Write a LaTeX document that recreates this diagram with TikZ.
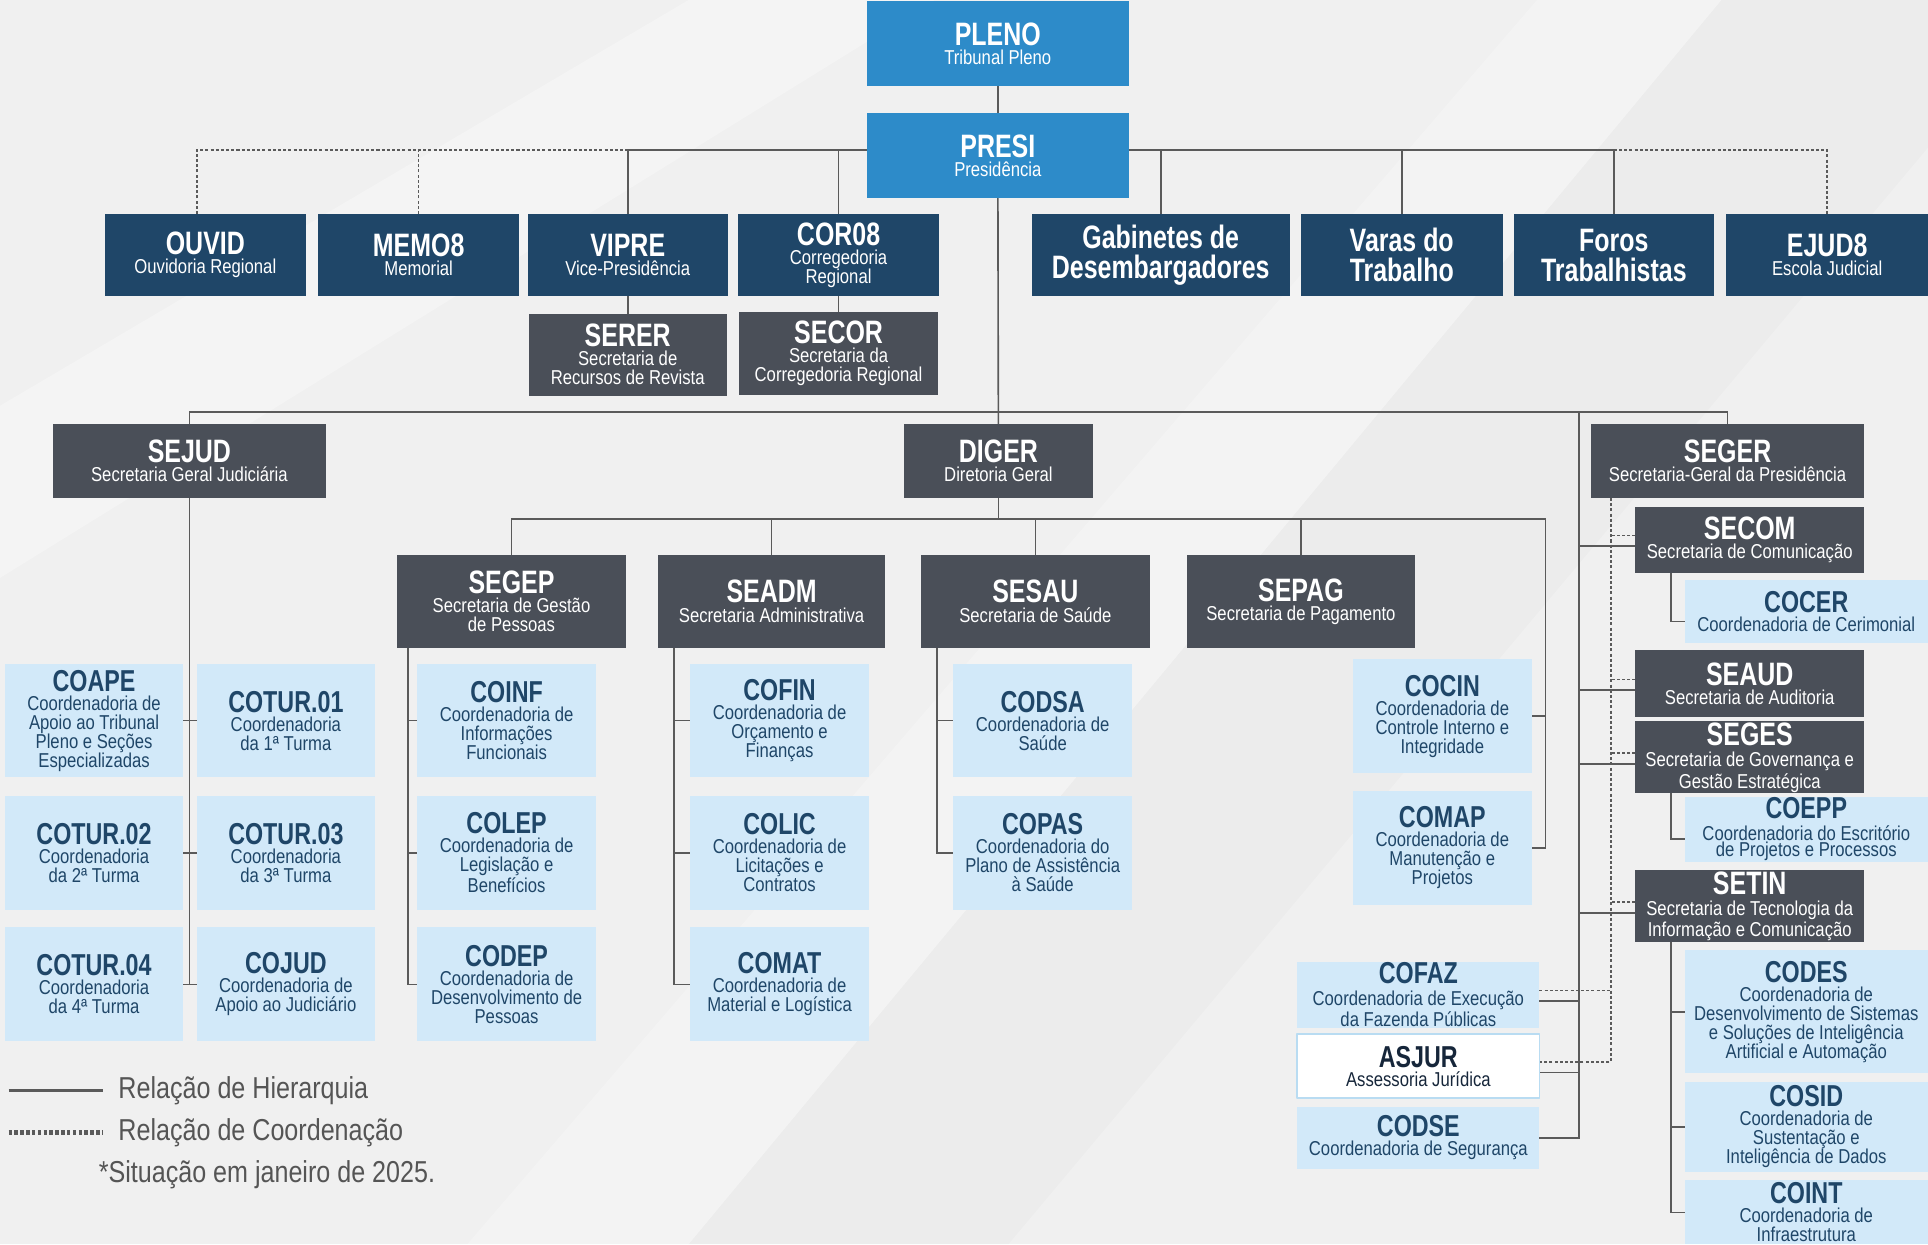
\documentclass[tikz,border=0pt]{standalone}
\usepackage{fontspec}
\setmainfont{Liberation Sans}[FakeStretch=0.83]
\newfontfamily\titlefam{Liberation Sans}[FakeStretch=0.77]
\usetikzlibrary{backgrounds}

\definecolor{plenoblue}{HTML}{2D8BC9}
\definecolor{orgnavy}{HTML}{1F4668}
\definecolor{slate}{HTML}{4A4F58}
\definecolor{paleblue}{HTML}{D2E9F9}
\definecolor{linegray}{HTML}{5A5A5A}
\definecolor{legendgray}{HTML}{555555}
\definecolor{bggray}{HTML}{F0F0F0}
\definecolor{asjurline}{HTML}{B9DCF2}
\definecolor{asjurtext}{HTML}{16263A}

% titles of the boxes
\newcommand{\ttl}[1]{{\titlefam\bfseries\fontsize{15}{15}\selectfont #1}}
\newcommand{\ctl}[1]{{\titlefam\bfseries\fontsize{14}{14}\selectfont #1}}
% box from its corners: style, x1, y1, x2, y2, name, text
\newcommand{\orgbox}[7]{%
  \node[#1, minimum width={(#4-#2)*0.02cm}, minimum height={(#5-#3)*0.02cm}]
    (#6) at ({(#2+#4)/2},{(#3+#5)/2}) {#7};}

\begin{document}
\begin{tikzpicture}[x=0.02cm, y=-0.02cm, line join=round,
    box/.style={inner sep=0.5pt, outer sep=0pt, align=center, text=white,
      font=\fontsize{9.3}{8.8}\selectfont},
    bluebox/.style={box, fill=plenoblue},
    navybox/.style={box, fill=orgnavy},
    navybig/.style={navybox, font=\titlefam\bfseries\fontsize{15}{13.9}\selectfont},
    graybox/.style={box, fill=slate},
    lightbox/.style={box, fill=paleblue, text=orgnavy},
    asjurbox/.style={box, fill=white, draw=asjurline, line width=0.8pt, text=asjurtext},
    tight/.style={font=\fontsize{9.3}{7.6}\selectfont},
    hier/.style={draw=linegray, line width=0.75pt},
    coord/.style={draw=linegray, line width=0.75pt, dash pattern=on 1.4pt off 1pt},
    legend/.style={text=legendgray, inner sep=0pt, font=\fontsize{14}{14}\selectfont}]
\useasboundingbox (0,0) rectangle (1568,1012);

% presidencia
\orgbox{bluebox}{705}{1}{918}{70}{pleno}{\ttl{PLENO}\\Tribunal Pleno}
\orgbox{bluebox}{705}{92}{918}{161}{presi}{\ttl{PRESI}\\Presidência}
\orgbox{navybox}{85}{174}{249}{241}{ouvid}{\ttl{OUVID}\\Ouvidoria Regional}
\orgbox{navybox}{259}{174}{422}{241}{memo}{\ttl{MEMO8}\\Memorial}
\orgbox{navybox}{429}{174}{592}{241}{vipre}{\ttl{VIPRE}\\Vice-Presidência}
\orgbox{navybox}{600}{174}{764}{241}{coro}{\ttl{COR08}\\Corregedoria\\Regional}
\orgbox{navybig}{839}{174}{1049}{241}{gab}{Gabinetes de\\Desembargadores}
\orgbox{navybig}{1058}{174}{1222}{241}{varas}{Varas do\\Trabalho}
\orgbox{navybig}{1231}{174}{1394}{241}{foros}{Foros\\Trabalhistas}
\orgbox{navybox}{1404}{174}{1568}{241}{ejud}{\ttl{EJUD8}\\Escola Judicial}
\orgbox{graybox}{430}{255}{591}{322}{serer}{\ttl{SERER}\\Secretaria de\\Recursos de Revista}
\orgbox{graybox}{601}{254}{763}{321}{secor}{\ttl{SECOR}\\Secretaria da\\Corregedoria Regional}

% secretarias gerais
\orgbox{graybox}{43}{345}{265}{405}{sejud}{\ttl{SEJUD}\\Secretaria Geral Judiciária}
\orgbox{graybox}{735}{345}{889}{405}{diger}{\ttl{DIGER}\\Diretoria Geral}
\orgbox{graybox}{1294}{345}{1516}{405}{seger}{\ttl{SEGER}\\Secretaria-Geral da Presidência}

% sejud
\orgbox{lightbox}{4}{540}{149}{632}{coape}{\ctl{COAPE}\\Coordenadoria de\\Apoio ao Tribunal\\Pleno e Seções\\Especializadas}
\orgbox{lightbox}{160}{540}{305}{632}{cotur01}{\ctl{COTUR.01}\\Coordenadoria\\da 1ª Turma}
\orgbox{lightbox}{4}{647}{149}{740}{cotur02}{\ctl{COTUR.02}\\Coordenadoria\\da 2ª Turma}
\orgbox{lightbox}{160}{647}{305}{740}{cotur03}{\ctl{COTUR.03}\\Coordenadoria\\da 3ª Turma}
\orgbox{lightbox}{4}{754}{149}{847}{cotur04}{\ctl{COTUR.04}\\Coordenadoria\\da 4ª Turma}
\orgbox{lightbox}{160}{754}{305}{847}{cojud}{\ctl{COJUD}\\Coordenadoria de\\Apoio ao Judiciário}

% diger
\orgbox{graybox}{323}{451}{509}{527}{segep}{\ttl{SEGEP}\\Secretaria de Gestão\\de Pessoas}
\orgbox{graybox}{535}{451}{720}{527}{seadm}{\ttl{SEADM}\\Secretaria Administrativa}
\orgbox{graybox}{749}{451}{935}{527}{sesau}{\ttl{SESAU}\\Secretaria de Saúde}
\orgbox{graybox}{965}{451}{1151}{527}{sepag}{\ttl{SEPAG}\\Secretaria de Pagamento}
\orgbox{lightbox}{339}{540}{485}{632}{coinf}{\ctl{COINF}\\Coordenadoria de\\Informações\\Funcionais}
\orgbox{lightbox}{339}{647}{485}{740}{colep}{\ctl{COLEP}\\Coordenadoria de\\Legislação e\\Benefícios}
\orgbox{lightbox}{339}{754}{485}{847}{codep}{\ctl{CODEP}\\Coordenadoria de\\Desenvolvimento de\\Pessoas}
\orgbox{lightbox}{561}{540}{707}{632}{cofin}{\ctl{COFIN}\\Coordenadoria de\\Orçamento e\\Finanças}
\orgbox{lightbox}{561}{647}{707}{740}{colic}{\ctl{COLIC}\\Coordenadoria de\\Licitações e\\Contratos}
\orgbox{lightbox}{561}{754}{707}{847}{comat}{\ctl{COMAT}\\Coordenadoria de\\Material e Logística}
\orgbox{lightbox}{775}{540}{921}{632}{codsa}{\ctl{CODSA}\\Coordenadoria de\\Saúde}
\orgbox{lightbox}{775}{647}{921}{740}{copas}{\ctl{COPAS}\\Coordenadoria do\\Plano de Assistência\\à Saúde}
\orgbox{lightbox}{1100}{536}{1246}{629}{cocin}{\ctl{COCIN}\\Coordenadoria de\\Controle Interno e\\Integridade}
\orgbox{lightbox}{1100}{643}{1246}{736}{comap}{\ctl{COMAP}\\Coordenadoria de\\Manutenção e\\Projetos}

% seger
\orgbox{graybox}{1330}{412}{1516}{466}{secom}{\ttl{SECOM}\\Secretaria de Comunicação}
\orgbox{lightbox}{1370}{472}{1568}{523}{cocer}{\ctl{COCER}\\Coordenadoria de Cerimonial}
\orgbox{graybox}{1330}{529}{1516}{583}{seaud}{\ttl{SEAUD}\\Secretaria de Auditoria}
\orgbox{graybox,tight}{1330}{589}{1516}{643}{seges}{\ttl{SEGES}\\[2.5pt]Secretaria de Governança e\\Gestão Estratégica}
\orgbox{lightbox,tight}{1370}{648}{1568}{701}{coepp}{\ctl{COEPP}\\[2.5pt]Coordenadoria do Escritório\\de Projetos e Processos}
\orgbox{graybox,tight}{1330}{708}{1516}{766}{setin}{\ttl{SETIN}\\[2.5pt]Secretaria de Tecnologia da\\Informação e Comunicação}
\orgbox{lightbox}{1370}{773}{1568}{873}{codes}{\ctl{CODES}\\Coordenadoria de\\Desenvolvimento de Sistemas\\e Soluções de Inteligência\\Artificial e Automação}
\orgbox{lightbox}{1370}{880}{1568}{953}{cosid}{\ctl{COSID}\\Coordenadoria de\\Sustentação e\\Inteligência de Dados}
\orgbox{lightbox}{1370}{960}{1568}{1012}{coint}{\ctl{COINT}\\Coordenadoria de\\Infraestrutura}
\orgbox{lightbox,tight}{1055}{783}{1252}{835}{cofaz}{\ctl{COFAZ}\\[2.5pt]Coordenadoria de Execução\\da Fazenda Públicas}
\orgbox{asjurbox}{1055}{841}{1252}{893}{asjur}{\ctl{ASJUR}\\Assessoria Jurídica}
\orgbox{lightbox}{1055}{900}{1252}{951}{codse}{\ctl{CODSE}\\Coordenadoria de Segurança}

% legenda
\node[legend, anchor=west] (hiertxt) at (96,887) {Relação de Hierarquia};
\node[legend, anchor=west] (coordtxt) at (96,921) {Relação de Coordenação};
\node[legend, anchor=west] (datetxt) at (80,955) {*Situação em janeiro de 2025.};

\begin{scope}[on background layer]
  \fill[bggray] (0,0) rectangle (1568,1012);
  \fill[white, opacity=0.3] (0,330) -- (560,0) -- (760,0) -- (0,470) -- cycle;
  \fill[white, opacity=0.25] (380,1012) -- (1250,0) -- (1400,0) -- (560,1012) -- cycle;
  \fill[black, opacity=0.015] (560,1012) -- (1400,0) -- (1568,0) -- (1568,120) -- (820,1012) -- cycle;

  % presi
  \coordinate (presibus) at (812,122);
  \coordinate (ouvidx) at (160,0);
  \draw[hier] (pleno) -- (presi);
  \draw[hier] (vipre.north) |- (presibus) -| (foros.north);
  \draw[hier] (coro.north) -- (coro.north |- presibus);
  \draw[hier] (gab.north) -- (gab.north |- presibus);
  \draw[hier] (varas.north) -- (varas.north |- presibus);
  \draw[coord] (ouvid.north -| ouvidx) |- (vipre.north |- presibus);
  \draw[coord] (memo.north) -- (memo.north |- presibus);
  \draw[coord] (foros.north |- presibus) -| (ejud.north);
  \draw[hier] (vipre) -- (serer);
  \draw[hier] (coro) -- (secor);

  % secretarias gerais
  \coordinate (digerbus) at (812,335);
  \coordinate (segerx) at (1284,335);
  \coordinate (dotx) at (1310,0);
  \coordinate (comx) at (1359,0);
  \draw[hier] (presi) -- (diger);
  \draw[hier] (sejud.north) |- (digerbus) -| (seger.north);

  % sejud
  \draw[hier] (sejud.south) -- (sejud.south |- cotur04.east);
  \draw[hier] (coape.east) -- (cotur01.west);
  \draw[hier] (cotur02.east) -- (cotur03.west);
  \draw[hier] (cotur04.east) -- (cojud.west);

  % diger
  \coordinate (digerlow) at (812,422);
  \coordinate (pagx) at (1257,0);
  \coordinate (segepx) at (332,0);
  \coordinate (seadmx) at (548,0);
  \coordinate (sesaux) at (762,0);
  \draw[hier] (diger.south) -- (digerlow);
  \draw[hier] (segep.north) |- (digerlow) -| (comap.east -| pagx) -- (comap.east);
  \draw[hier] (cocin.east) -- (cocin.east -| pagx);
  \foreach \n in {seadm,sesau,sepag}
    \draw[hier] (\n.north) -- (\n.north |- digerlow);
  \draw[hier] (segep.south -| segepx) |- (codep.west);
  \draw[hier] (coinf.west) -- (coinf.west -| segepx);
  \draw[hier] (colep.west) -- (colep.west -| segepx);
  \draw[hier] (seadm.south -| seadmx) |- (comat.west);
  \draw[hier] (cofin.west) -- (cofin.west -| seadmx);
  \draw[hier] (colic.west) -- (colic.west -| seadmx);
  \draw[hier] (sesau.south -| sesaux) |- (copas.west);
  \draw[hier] (codsa.west) -- (codsa.west -| sesaux);

  % seger
  \draw[hier] (segerx) |- (codse.east);
  \draw[coord] (seger.south -| dotx) |- ([yshift=2pt]asjur.east);
  \foreach \n in {secom,seaud,seges,setin} {
    \draw[hier] ([yshift=-3pt]\n.west) -- ([yshift=-3pt]\n.west -| segerx);
    \draw[coord] ([yshift=2pt]\n.west) -- ([yshift=2pt]\n.west -| dotx);
  }
  \draw[hier] ([yshift=-3pt]cofaz.east) -- ([yshift=-3pt]cofaz.east -| segerx);
  \draw[hier] ([yshift=-3pt]asjur.east) -- ([yshift=-3pt]asjur.east -| segerx);
  \draw[coord] ([yshift=2pt]cofaz.east) -- ([yshift=2pt]cofaz.east -| dotx);
  \draw[hier] (secom.south -| comx) |- ([yshift=-4.5pt]cocer.west);
  \draw[hier] (seges.south -| comx) |- ([yshift=-4.5pt]coepp.west);
  \draw[hier] (setin.south -| comx) |- (coint.west);
  \draw[hier] (codes.west) -- (codes.west -| comx);
  \draw[hier] (cosid.west) -- (cosid.west -| comx);

  % legenda
  \coordinate (hierA) at (7,887);
  \coordinate (hierB) at (84,887);
  \coordinate (coordA) at (7,921);
  \coordinate (coordB) at (84,921);
  \draw[hier, line width=1.6pt] (hierA) -- (hierB);
  \draw[linegray, line width=2.2pt, dash pattern=on 1.6pt off 1.1pt] (coordA) -- (coordB);
\end{scope}
\end{tikzpicture}
\end{document}
